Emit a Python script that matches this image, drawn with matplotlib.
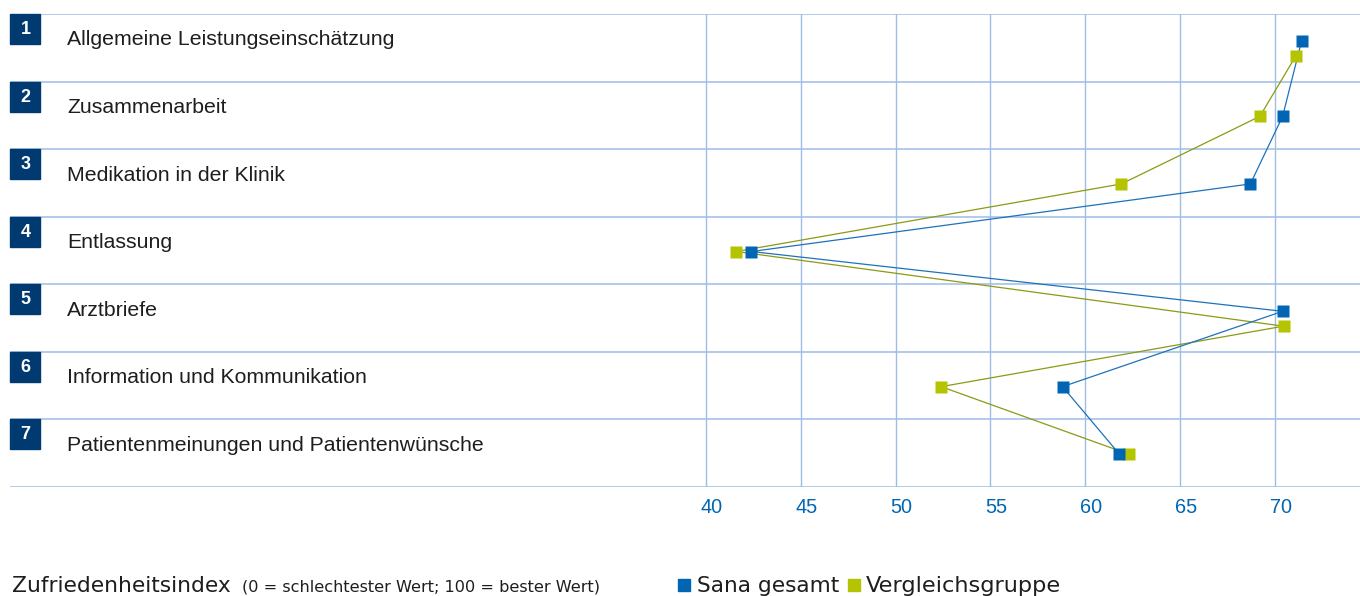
import matplotlib.pyplot as plt
import matplotlib.transforms as mtransforms
from matplotlib.patches import Rectangle

# data
categories = ["Allgemeine Leistungseinschätzung", "Zusammenarbeit",
              "Medikation in der Klinik", "Entlassung", "Arztbriefe",
              "Information und Kommunikation",
              "Patientenmeinungen und Patientenwünsche"]
sana = [71.4, 70.4, 68.7, 42.4, 70.4, 58.8, 61.8]
vergleich = [71.1, 69.2, 61.9, 41.6, 70.45, 52.4, 62.3]
ticks = [40, 45, 50, 55, 60, 65, 70]

# small vertical shifts so overlapping markers stay visible
sana_dy = [-0.10, 0.015, 0.015, 0.015, -0.10, 0.015, 0.015]
verg_dy = [0.12, 0.015, 0.015, 0.015, 0.12, 0.015, 0.015]

BLUE = '#0066b3'
BLUE_LINE = '#1f72b8'
GREEN = '#b5c400'
GREEN_LINE = '#8c9a14'
GRID = '#9dbde6'
NAVY = '#003a70'
TEXT = '#1e1e1e'

W, H = 1360, 596
fig = plt.figure(figsize=(W / 100, H / 100), dpi=100)
ax = fig.add_axes([10 / W, (H - 487) / H, 1350 / W, (487 - 14) / H])

n = len(categories)
rows = list(range(1, n + 1))
ys_s = [r + d for r, d in zip(rows, sana_dy)]
ys_v = [r + d for r, d in zip(rows, verg_dy)]

ax.set_xlim(3.31, 74.48)
ax.set_ylim(n + 0.5, 0.5)

for r in range(n + 1):
    ax.axhline(r + 0.5, color=GRID, lw=1.1, zorder=1)
ax.set_xticks(ticks)
ax.set_yticks([])
ax.grid(axis='x', color=GRID, lw=1.0, zorder=1)
ax.tick_params(axis='x', length=0, pad=8, labelcolor=BLUE, labelsize=14.3)
shift = mtransforms.ScaledTranslation(6 / 100, 0, fig.dpi_scale_trans)
for lab in ax.get_xticklabels():
    lab.set_family('Liberation Sans')
    lab.set_transform(lab.get_transform() + shift)
for s in ax.spines.values():
    s.set_visible(False)

ax.plot(vergleich, ys_v, color=GREEN_LINE, lw=0.9, zorder=3)
ax.plot(sana, ys_s, color=BLUE_LINE, lw=0.9, zorder=4)
ax.plot(vergleich, ys_v, ls='none', marker='s', ms=8.6, color=GREEN, mec='none', zorder=5)
ax.plot(sana, ys_s, ls='none', marker='s', ms=8.6, color=BLUE, mec='none', zorder=6)

# number boxes and labels on the left
trans = mtransforms.blended_transform_factory(ax.transAxes, ax.transData)
for i, cat in enumerate(categories):
    top = i + 0.5
    ax.add_patch(Rectangle((0, top), 30 / 1350, 0.444, transform=trans,
                           color=NAVY, zorder=7, clip_on=False))
    ax.text(15.5 / 1350, top + 0.296, str(i + 1), transform=trans, color='white',
            fontsize=13, fontweight='bold', ha='center', va='baseline',
            family='Liberation Sans', zorder=8)
    ax.text(57 / 1350, top + 0.465, cat, transform=trans, color=TEXT,
            fontsize=15.3, ha='left', va='baseline', family='Liberation Sans')

# bottom caption and legend
fig.text(12 / W, 4 / H, 'Zufriedenheitsindex', fontsize=15.7, color=TEXT,
         family='DejaVu Sans', va='baseline')
fig.text(242 / W, 4 / H, '(0 = schlechtester Wert; 100 = bester Wert)', fontsize=11.6,
         color=TEXT, family='DejaVu Sans', va='baseline')
fig.add_artist(Rectangle((678 / W, 5 / H), 12 / W, 12 / H, color=BLUE,
                         transform=fig.transFigure))
fig.text(697 / W, 4 / H, 'Sana gesamt', fontsize=15.6, color=TEXT,
         family='DejaVu Sans', va='baseline')
fig.add_artist(Rectangle((848 / W, 5 / H), 12 / W, 12 / H, color=GREEN,
                         transform=fig.transFigure))
fig.text(866 / W, 4 / H, 'Vergleichsgruppe', fontsize=16.2, color=TEXT,
         family='DejaVu Sans', va='baseline')

fig.savefig('out.png', dpi=100)
